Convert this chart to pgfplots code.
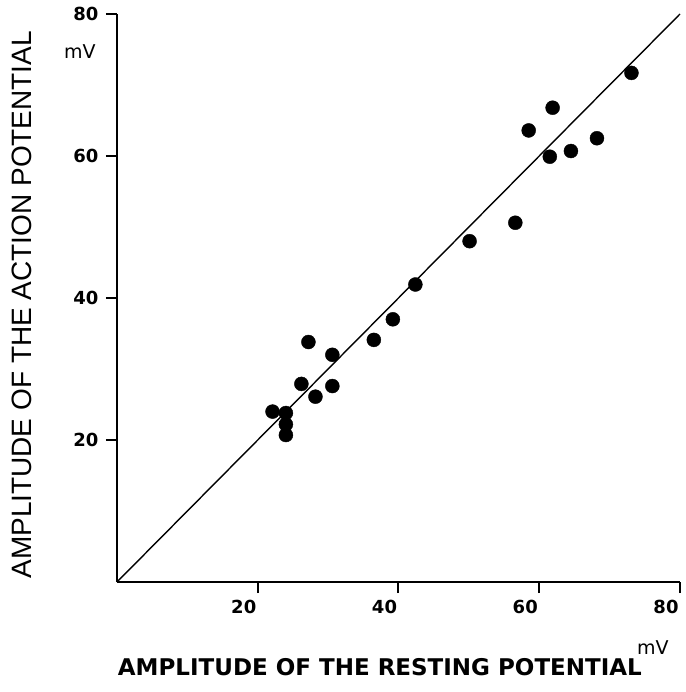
\documentclass[border=0pt]{standalone}
\usepackage{fontspec}
\setmainfont{DejaVu Sans}
\newfontfamily\arial{Liberation Sans}
\usepackage{pgfplots}
\pgfplotsset{compat=1.18}

\begin{document}
\begin{tikzpicture}
\begin{axis}[
    scale only axis,
    width=563pt, height=568pt,
    xmin=0, xmax=80, ymin=0, ymax=80,
    axis x line*=bottom, axis y line*=left,
    axis line style={-, line width=2.4pt},
    xtick={20,40,60,80}, ytick={20,40,60,80},
    tick align=outside, major tick length=11pt,
    tick style={line width=2pt, black},
    /pgf/number format/assume math mode=true,
    ticklabel style={font=\bfseries\fontsize{18}{18}\selectfont},
    xticklabel style={xshift=-14pt, yshift=-4pt},
    yticklabel style={xshift=-4pt},
    xlabel={AMPLITUDE OF THE RESTING POTENTIAL},
    ylabel={AMPLITUDE OF THE ACTION POTENTIAL},
    xlabel style={at={(axis description cs:0.467,-0.150)}, anchor=center,
        font=\bfseries\fontsize{23}{23}\selectfont},
    ylabel style={at={(axis description cs:-0.169,0.488)}, anchor=center,
        font=\arial\fontsize{28}{28}\selectfont},
    clip=false,
]
% identity line
\addplot[black, line width=1.4pt] coordinates {(0,0) (80,80)};
% measured cells
\addplot[only marks, mark=*, mark size=7pt, black] coordinates {
    (22.1,24.0) (24.0,23.8) (24.0,22.2) (24.0,20.7)
    (26.2,27.9) (27.2,33.8) (28.2,26.1) (30.6,32.0) (30.6,27.6)
    (36.5,34.1) (39.2,37.0) (42.4,41.9) (50.1,48.0) (56.6,50.6)
    (58.5,63.6) (61.5,59.9) (61.9,66.8) (64.5,60.7) (68.2,62.5)
    (73.1,71.7)
};
\node[font=\fontsize{19}{19}\selectfont] at (axis description cs:-0.066,0.933) {mV};
\node[font=\fontsize{19}{19}\selectfont] at (axis description cs:0.952,-0.116) {mV};
\coordinate (bl) at (rel axis cs:0,0);
\coordinate (tr) at (rel axis cs:1,1);
\end{axis}
\pgfresetboundingbox
\path (bl) ++(-117pt,-110pt) rectangle ([shift={(6pt,14pt)}]tr);
\end{tikzpicture}
\end{document}
